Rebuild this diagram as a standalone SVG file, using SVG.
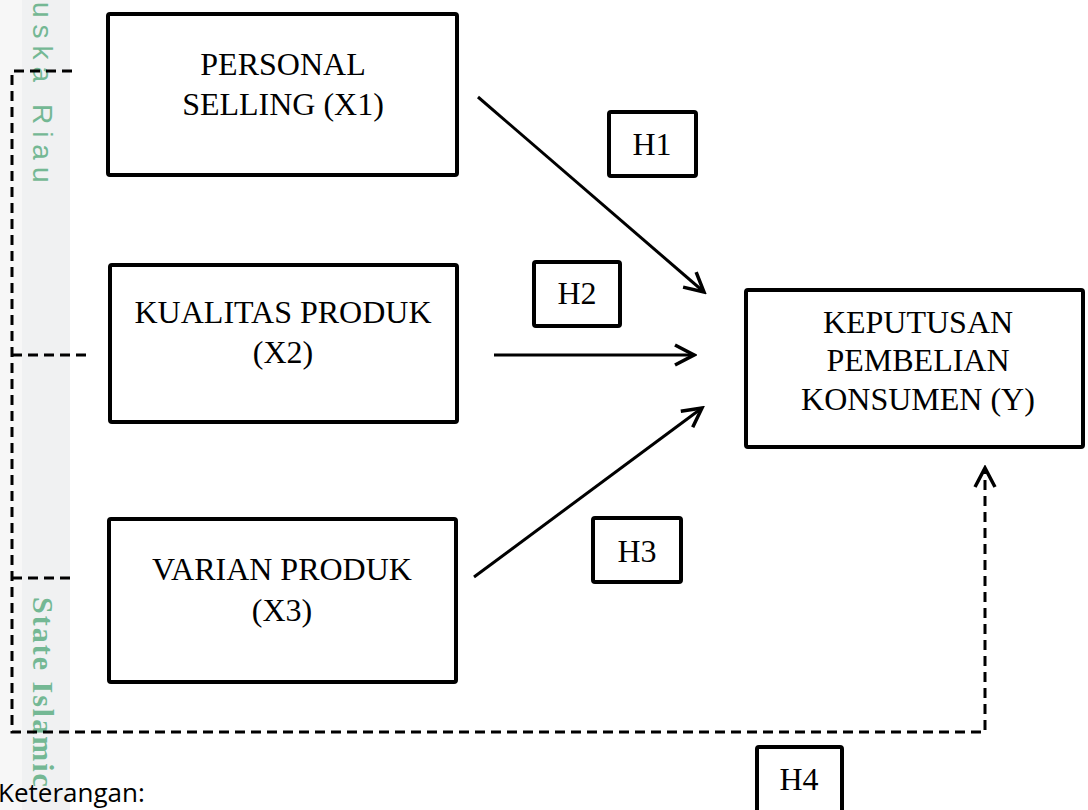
<svg xmlns="http://www.w3.org/2000/svg" width="1088" height="810" viewBox="0 0 1088 810">
<style>
.box{fill:#fff;stroke:#000;stroke-width:4}
.lbl{font-family:"Liberation Serif","Times New Roman",serif;font-size:32px;fill:#000;text-anchor:middle}
.arr{stroke:#000;stroke-width:3;fill:none}
.dash{stroke:#000;stroke-width:3;fill:none;stroke-dasharray:10 6}
.wm{fill:#74b894}
</style>
<defs>
<marker id="head" viewBox="0 0 24 24" refX="21" refY="12" markerWidth="24" markerHeight="24" markerUnits="userSpaceOnUse" orient="auto">
<path d="M2,2 L21,12 L2,22" fill="none" stroke="#000" stroke-width="3.5"/>
</marker>
</defs>
<rect width="1088" height="810" fill="#fff"/>
<g id="watermark">
<rect x="0" y="0" width="22" height="810" fill="#f7f7f7"/>
<rect x="22" y="0" width="48" height="810" fill="#f0f1f2"/>
<text class="wm" transform="translate(33,2) rotate(90)" font-family="Liberation Sans, Arial, sans-serif" font-size="28" letter-spacing="7">uska Riau</text>
<text class="wm" transform="translate(33,597) rotate(90)" font-family="Liberation Serif, serif" font-size="30" font-weight="bold" letter-spacing="2">State Islamic</text>
</g>
<g id="connectors">
<line class="arr" x1="478" y1="97" x2="704" y2="292" marker-end="url(#head)"/>
<line class="arr" x1="494" y1="355" x2="694" y2="355" marker-end="url(#head)"/>
<line class="arr" x1="474" y1="577" x2="702" y2="408" marker-end="url(#head)"/>
<path class="dash" d="M72,71 H12 V732 H985 V468" marker-end="url(#head)"/>
<line class="dash" x1="12" y1="355" x2="88" y2="355"/>
<line class="dash" x1="12" y1="578" x2="72" y2="578"/>
</g>
<g id="x1">
<rect class="box" x="108" y="14" width="349" height="161" rx="2"/>
<text class="lbl" x="283" y="75">PERSONAL</text>
<text class="lbl" x="283" y="115">SELLING (X1)</text>
</g>
<g id="x2">
<rect class="box" x="110" y="265" width="347" height="157" rx="2"/>
<text class="lbl" x="283" y="323">KUALITAS PRODUK</text>
<text class="lbl" x="283" y="363">(X2)</text>
</g>
<g id="x3">
<rect class="box" x="109" y="519" width="347" height="163" rx="2"/>
<text class="lbl" x="282" y="580">VARIAN PRODUK</text>
<text class="lbl" x="282" y="621">(X3)</text>
</g>
<g id="y">
<rect class="box" x="746" y="290" width="337" height="157" rx="2"/>
<text class="lbl" x="918" y="333">KEPUTUSAN</text>
<text class="lbl" x="918" y="371">PEMBELIAN</text>
<text class="lbl" x="918" y="410">KONSUMEN (Y)</text>
</g>
<g id="h1">
<rect class="box" x="609" y="112" width="87" height="64" rx="2"/>
<text class="lbl" x="652" y="155">H1</text>
</g>
<g id="h2">
<rect class="box" x="534" y="262" width="86" height="64" rx="2"/>
<text class="lbl" x="577" y="304">H2</text>
</g>
<g id="h3">
<rect class="box" x="593" y="518" width="88" height="64" rx="2"/>
<text class="lbl" x="637" y="562">H3</text>
</g>
<g id="h4">
<rect class="box" x="757" y="747" width="85" height="70" rx="2"/>
<text class="lbl" x="799" y="790">H4</text>
</g>
<text x="-2" y="802" font-family="Open Sans, Liberation Sans, sans-serif" font-size="26" fill="#000">Keterangan:</text>
</svg>
